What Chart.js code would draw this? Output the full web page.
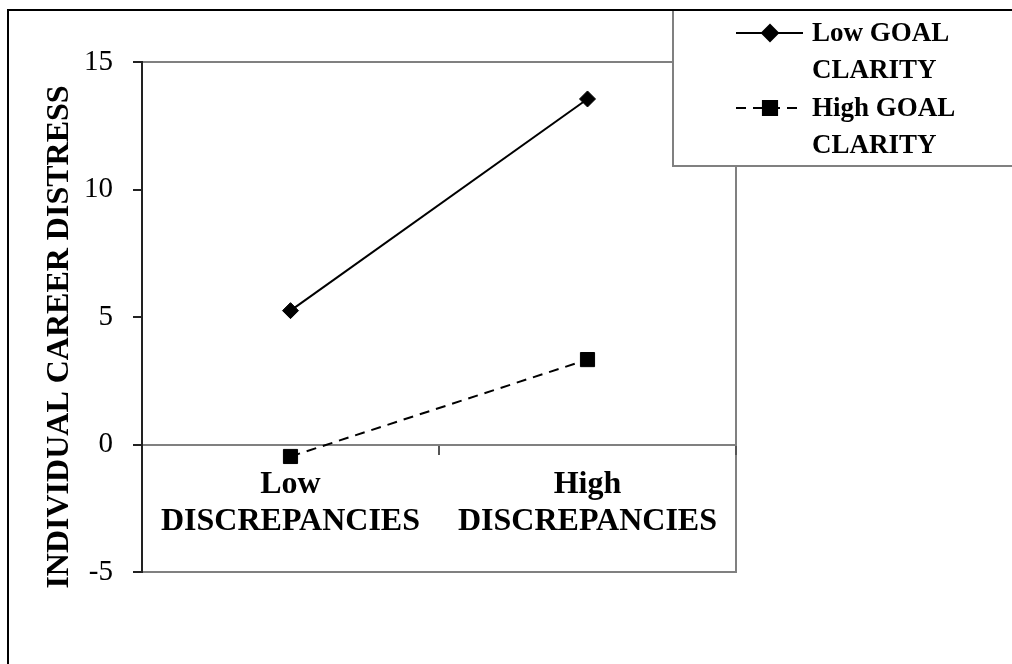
<!DOCTYPE html>
<html>
<head>
<meta charset="utf-8">
<script src="https://cdn.jsdelivr.net/npm/chart.js@4"></script>
<style>
  html, body { margin: 0; padding: 0; background: #fff; }
  #wrap { position: relative; width: 1012px; height: 664px; overflow: hidden; }
  #frame { position: absolute; left: 7px; top: 9px; width: 1100px; height: 700px;
           border-left: 2px solid #000; border-top: 2px solid #000; pointer-events: none; }
</style>
</head>
<body>
<div id="wrap">
  <canvas id="interactionChart" width="1012" height="664"></canvas>
  <div id="frame"></div>
</div>
<script>
// chart values
const categories = [['Low', 'DISCREPANCIES'], ['High', 'DISCREPANCIES']];
const seriesNames = ['Low GOAL CLARITY', 'High GOAL CLARITY'];
const legendLines = [['Low GOAL', 'CLARITY'], ['High GOAL', 'CLARITY']];
const lowClarity = [5.25, 13.55];
const highClarity = [-0.47, 3.33];
const yTicks = [-5, 0, 5, 10, 15];
const yTitle = 'INDIVIDUAL CAREER DISTRESS';

const serif = "'Liberation Serif', 'Times New Roman', serif";

/**
 * Draws the gray frame around the plot area before the axes go on top.
 */
const plotFrame = {
    id: 'plotFrame',
    beforeDraw(chart) {
        const { ctx, chartArea } = chart;
        ctx.save();
        ctx.strokeStyle = '#808080';
        ctx.lineWidth = 2;
        ctx.strokeRect(chartArea.left, chartArea.top,
            chartArea.right - chartArea.left, chartArea.bottom - chartArea.top);
        ctx.restore();
    }
};

/**
 * Boxed legend in the top right corner, built from the datasets.
 */
const boxLegend = {
    id: 'boxLegend',
    afterDraw(chart) {
        const ctx = chart.ctx;
        ctx.save();
        ctx.fillStyle = '#fff';
        ctx.strokeStyle = '#808080';
        ctx.lineWidth = 2;
        ctx.fillRect(673, 10, 380, 156);
        ctx.strokeRect(673, 10, 380, 156);

        ctx.font = 'bold 27px ' + serif;
        ctx.textBaseline = 'middle';
        ctx.textAlign = 'left';

        chart.data.datasets.forEach((ds, i) => {
            const y = 33 + i * 75;
            ctx.strokeStyle = ds.borderColor;
            ctx.lineWidth = 2;
            ctx.setLineDash(ds.borderDash || []);
            ctx.beginPath();
            ctx.moveTo(736, y);
            ctx.lineTo(803, y);
            ctx.stroke();
            ctx.setLineDash([]);

            ctx.fillStyle = ds.pointBackgroundColor;
            ctx.strokeStyle = ds.pointBorderColor;
            Chart.helpers.drawPoint(ctx, {
                pointStyle: ds.pointStyle,
                radius: ds.pointRadius,
                borderWidth: 1,
                rotation: 0
            }, 770, y);

            ctx.fillStyle = '#000';
            legendLines[i].forEach((t, j) => ctx.fillText(t, 812, y + 1 + j * 37.5));
        });
        ctx.restore();
    }
};

const data = {
    labels: categories,
    datasets: [
        {
            label: seriesNames[0],
            data: lowClarity,
            borderColor: '#000',
            borderWidth: 2,
            pointStyle: 'rectRot',
            pointRadius: 8,
            pointBackgroundColor: '#000',
            pointBorderColor: '#000',
            pointBorderWidth: 1
        },
        {
            label: seriesNames[1],
            data: highClarity,
            borderColor: '#000',
            borderWidth: 2,
            borderDash: [10, 7],
            pointStyle: 'rect',
            pointRadius: 10,
            pointBackgroundColor: '#000',
            pointBorderColor: '#000',
            pointBorderWidth: 1
        }
    ]
};

const config = {
    type: 'line',
    data: data,
    options: {
        responsive: false,
        animation: false,
        layout: {
            padding: { left: 0, top: 62, right: 276, bottom: 92 }
        },
        plugins: {
            legend: { display: false },
            tooltip: { enabled: false }
        },
        scales: {
            x: {
                type: 'category',
                position: { y: 0 },
                offset: true,
                border: { display: true, color: '#808080', width: 2 },
                grid: {
                    display: true,
                    offset: true,
                    drawOnChartArea: false,
                    drawTicks: true,
                    tickLength: 9,
                    color: '#555',
                    lineWidth: 2
                },
                ticks: {
                    color: '#000',
                    padding: 13,
                    maxRotation: 0,
                    autoSkip: false,
                    font: { family: serif, size: 32, weight: 'bold', lineHeight: 1.16 }
                }
            },
            y: {
                min: -5,
                max: 15,
                afterFit(scale) { scale.width = 142; },
                afterBuildTicks(scale) { scale.ticks = yTicks.map(v => ({ value: v })); },
                border: { display: true, color: '#222', width: 2 },
                grid: {
                    display: true,
                    drawOnChartArea: false,
                    drawTicks: true,
                    tickLength: 9,
                    color: '#222',
                    lineWidth: 2
                },
                ticks: {
                    color: '#000',
                    padding: 20,
                    font: { family: serif, size: 29 }
                },
                title: {
                    display: true,
                    // trailing spaces nudge the rotated title down like the original
                    text: yTitle + '\u00a0\u00a0\u00a0\u00a0\u00a0',
                    color: '#000',
                    padding: { top: 41, bottom: 0 },
                    font: { family: serif, size: 32, weight: 'bold' }
                }
            }
        }
    },
    plugins: [plotFrame, boxLegend]
};

new Chart(document.getElementById('interactionChart'), config);
</script>
</body>
</html>
